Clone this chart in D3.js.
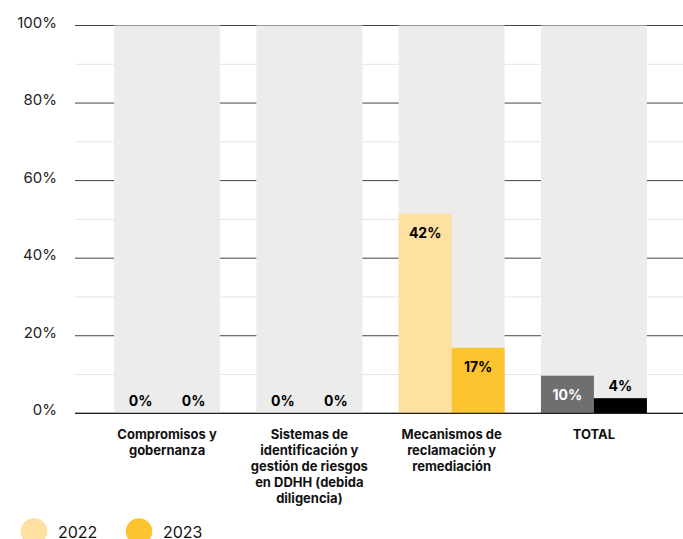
<!DOCTYPE html>
<html>
<head>
<meta charset="utf-8">
<script src="https://cdn.jsdelivr.net/npm/d3@7"></script>
<style>
  body { margin: 0; background: #fff; }
  svg { font-family: Inter, "Noto Sans", sans-serif; }
</style>
</head>
<body>
<script>
// data
var categories = [
  ["Compromisos y", "gobernanza"],
  ["Sistemas de", "identificación y", "gestión de riesgos", "en DDHH (debida", "diligencia)"],
  ["Mecanismos de", "reclamación y", "remediación"],
  ["TOTAL"]
];
var years = ["2022", "2023"];
var values2022 = [0, 0, 51.5, 9.7];   // bar heights as drawn
var values2023 = [0, 0, 16.9, 3.9];
var labels2022 = ["0%", "0%", "42%", "10%"];
var labels2023 = ["0%", "0%", "17%", "4%"];
var yTicks = [0, 20, 40, 60, 80, 100];
var minorTicks = [10, 30, 50, 70, 90];

var w = 683, h = 539;
var yellow = ["#fee0a1", "#fdc42f"];
var totalCols = ["#6f6f6f", "#000000"];

var svg = d3.select("body").append("svg")
  .attr("width", w)
  .attr("height", h);

var x = d3.scaleBand()
  .domain(d3.range(categories.length))
  .range([96, 665])
  .paddingInner(0.255)
  .paddingOuter(0.127);

var x2 = d3.scaleBand()
  .domain(years)
  .range([0, x.bandwidth()]);

var y = d3.scaleLinear()
  .domain([0, 100])
  .range([413.3, 25.5]);

// minor grid
svg.selectAll(".minor").data(minorTicks).enter().append("line")
  .attr("x1", 75).attr("x2", w)
  .attr("y1", d => y(d)).attr("y2", d => y(d))
  .style("stroke", "#e4e4e4").style("stroke-width", 1);

// major grid
svg.selectAll(".major").data(yTicks).enter().append("line")
  .attr("x1", 75).attr("x2", w)
  .attr("y1", d => y(d)).attr("y2", d => y(d))
  .style("stroke", "#444").style("stroke-width", 1);

// y labels
svg.selectAll(".ylab").data(yTicks).enter().append("text")
  .attr("x", 57)
  .attr("y", d => y(d) + 2)
  .attr("text-anchor", "end")
  .attr("font-size", 15)
  .attr("fill", "#222")
  .text(d => d + "%");

// grey background columns
svg.selectAll(".bkg").data(categories).enter().append("rect")
  .attr("x", (d, i) => x(i))
  .attr("y", y(100))
  .attr("width", x.bandwidth())
  .attr("height", y(0) - y(100))
  .style("fill", "#ececec");

var bars = [];
categories.forEach(function(c, i) {
  bars.push({cat: i, year: "2022", v: values2022[i], lab: labels2022[i],
    col: i == 3 ? totalCols[0] : yellow[0], txt: i == 3 ? "#fff" : "#000"});
  bars.push({cat: i, year: "2023", v: values2023[i], lab: labels2023[i],
    col: i == 3 ? totalCols[1] : yellow[1], txt: "#000"});
});

svg.selectAll(".bar").data(bars).enter().append("rect")
  .attr("x", d => x(d.cat) + x2(d.year))
  .attr("y", d => y(d.v))
  .attr("width", x2.bandwidth())
  .attr("height", d => y(0) - y(d.v))
  .style("fill", d => d.col);

// value labels: inside when bar is tall enough, else above
svg.selectAll(".vlab").data(bars).enter().append("text")
  .attr("x", d => x(d.cat) + x2(d.year) + x2.bandwidth() / 2)
  .attr("y", d => d.v > 8 ? y(d.v) + 24 : y(d.v) - 7)
  .attr("text-anchor", "middle")
  .attr("font-size", 14)
  .attr("font-weight", "bold")
  .attr("fill", d => d.v > 8 ? d.txt : "#000")
  .text(d => d.lab);

// baseline
svg.append("line")
  .attr("x1", 75).attr("x2", w)
  .attr("y1", y(0)).attr("y2", y(0))
  .style("stroke", "#222").style("stroke-width", 1.2);

// category labels
categories.forEach(function(lines, i) {
  var t = svg.append("text")
    .attr("text-anchor", "middle")
    .attr("font-size", 13)
    .attr("font-weight", "bold")
    .attr("fill", "#111");
  lines.forEach(function(s, k) {
    t.append("tspan")
      .attr("x", x(i) + x.bandwidth() / 2)
      .attr("y", 439 + k * 16)
      .text(s);
  });
});

// legend
var leg = svg.selectAll(".leg").data(years).enter().append("g")
  .attr("transform", (d, i) => "translate(" + (34 + i * 105) + ",531.5)");
leg.append("circle").attr("r", 13.3).style("fill", (d, i) => yellow[i]);
leg.append("text")
  .attr("x", 24).attr("y", 6)
  .attr("font-size", 16)
  .attr("fill", "#111")
  .text(d => d);
</script>
</body>
</html>
